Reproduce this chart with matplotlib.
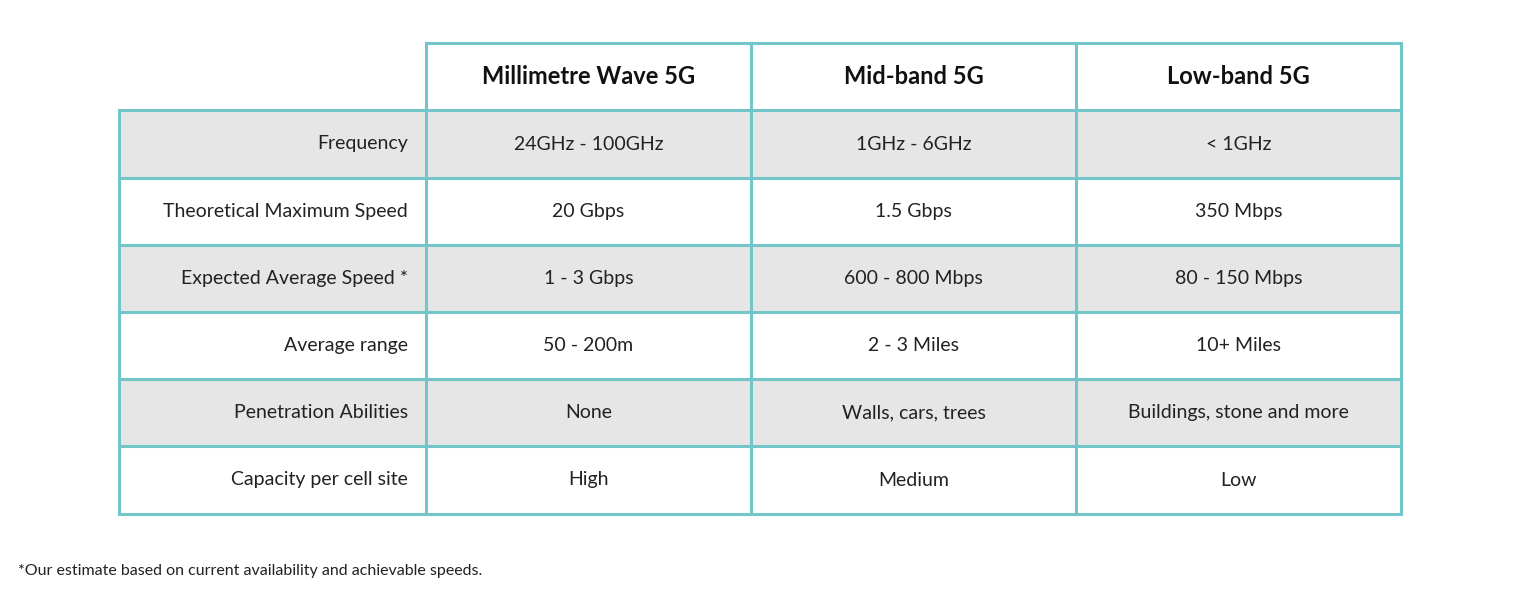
import matplotlib
matplotlib.use("Agg")
import matplotlib.pyplot as plt
from matplotlib.patches import Rectangle

columns = ["Millimetre Wave 5G", "Mid-band 5G", "Low-band 5G"]
row_labels = ["Frequency", "Theoretical Maximum Speed", "Expected Average Speed *",
              "Average range", "Penetration Abilities", "Capacity per cell site"]
mmwave = ["24GHz - 100GHz", "20 Gbps", "1 - 3 Gbps", "50 - 200m", "None", "High"]
midband = ["1GHz - 6GHz", "1.5 Gbps", "600 - 800 Mbps", "2 - 3 Miles", "Walls, cars, trees", "Medium"]
lowband = ["< 1GHz", "350 Mbps", "80 - 150 Mbps", "10+ Miles", "Buildings, stone and more", "Low"]
footnote = "*Our estimate based on current availability and achievable speeds."

plt.rcParams['font.family'] = ['Lato', 'DejaVu Sans']
fig = plt.figure(figsize=(15.2, 5.98), dpi=100)
ax = fig.add_axes([0, 0, 1, 1])
ax.set_xlim(0, 1520); ax.set_ylim(598, 0); ax.axis('off')

teal = "#72c6c9"; gray = "#e6e6e6"
xs = [119, 426, 751, 1076, 1401]
hy0, hy1 = 43, 110
ys = [110, 178, 245, 312, 379, 446, 514]
data = [mmwave, midband, lowband]

for i in range(len(row_labels)):
    fc = gray if i % 2 == 0 else "white"
    ax.add_patch(Rectangle((xs[0], ys[i]), xs[-1] - xs[0], ys[i+1] - ys[i], fc=fc, ec='none', zorder=1))
# grid lines
lw = 2.2
ax.plot([xs[1], xs[-1]], [hy0, hy0], color=teal, lw=lw, zorder=3)
for y in ys:
    ax.plot([xs[0], xs[-1]], [y, y], color=teal, lw=lw, zorder=3)
ax.plot([xs[0], xs[0]], [ys[0], ys[-1]], color=teal, lw=lw, zorder=3)
for x in xs[1:]:
    ax.plot([x, x], [hy0, ys[-1]], color=teal, lw=lw, zorder=3)

for j, c in enumerate(columns):
    ax.text((xs[j+1] + xs[j+2]) / 2, (hy0 + hy1) / 2, c, ha='center', va='center',
            fontsize=17, fontweight='bold', color='#111111', zorder=4)
for i, lab in enumerate(row_labels):
    yc = (ys[i] + ys[i+1]) / 2
    ax.text(408, yc, lab, ha='right', va='center', fontsize=14, color='#222222', zorder=4)
    for j in range(3):
        ax.text((xs[j+1] + xs[j+2]) / 2, yc, data[j][i], ha='center', va='center',
                fontsize=14, color='#222222', zorder=4)
ax.text(18, 571, footnote, ha='left', va='center', fontsize=11.5, color='#222222')
fig.savefig("out.png", dpi=100)
